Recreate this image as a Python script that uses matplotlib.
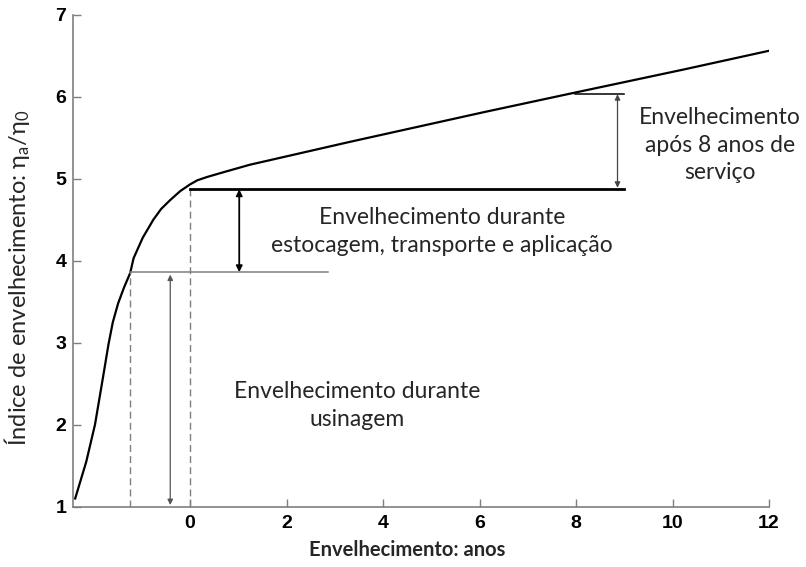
import matplotlib
matplotlib.use('Agg')
import matplotlib.pyplot as plt

# curva de envelhecimento
anos = [-2.38, -2.15, -1.97, -1.80, -1.69, -1.60, -1.49, -1.37, -1.24, -1.17, -0.98,
        -0.76, -0.60, -0.41, -0.20, 0.0, 0.15, 0.35, 0.70, 1.24, 3.32, 4.70, 6.08,
        7.98, 10.22, 12.0]
indice = [1.10, 1.55, 2.00, 2.59, 2.98, 3.25, 3.48, 3.67, 3.85, 4.03, 4.28,
          4.50, 4.63, 4.74, 4.85, 4.93, 4.98, 5.02, 5.08, 5.17, 5.45, 5.63, 5.81,
          6.05, 6.33, 6.56]

x_ticks = [0, 2, 4, 6, 8, 10, 12]
y_ticks = [1, 2, 3, 4, 5, 6, 7]

# niveis marcados
x_usinagem = -1.24
nivel_usinagem = 3.86
nivel_estocagem = 4.88
nivel_servico = 6.03
x_servico = 7.98

fig = plt.figure(figsize=(8.06, 5.67), dpi=100)
ax = fig.add_axes([0.0909, 0.1064, 0.8632, 0.8677])

ax.plot(anos, indice, color='black', lw=1.6)

cinza = '#7f7f7f'
# linhas tracejadas
ax.plot([x_usinagem, x_usinagem], [1, nivel_usinagem], color=cinza, lw=1, ls=(0, (5, 3)))
ax.plot([0, 0], [1, nivel_estocagem], color=cinza, lw=1, ls=(0, (5, 3)))

# linhas horizontais
ax.plot([x_usinagem, 2.87], [nivel_usinagem, nivel_usinagem], color=cinza, lw=1.1)
ax.plot([0, 9.0], [nivel_estocagem, nivel_estocagem], color='black', lw=2)
ax.plot([x_servico, 9.0], [nivel_servico, nivel_servico], color='black', lw=1.1)

# setas
ax.annotate('', xy=(-0.41, 1.02), xytext=(-0.41, nivel_usinagem - 0.03),
            arrowprops=dict(arrowstyle='<|-|>', color='#555555', lw=0.9,
                            mutation_scale=8, shrinkA=0, shrinkB=0))
ax.annotate('', xy=(1.02, nivel_usinagem), xytext=(1.02, nivel_estocagem - 0.01),
            arrowprops=dict(arrowstyle='<|-|>', color='black', lw=1.3,
                            mutation_scale=9, shrinkA=0, shrinkB=0))
ax.annotate('', xy=(8.86, nivel_estocagem + 0.01), xytext=(8.86, nivel_servico),
            arrowprops=dict(arrowstyle='<|-|>', color='#444444', lw=0.9,
                            mutation_scale=8, shrinkA=0, shrinkB=0))

cor_texto = '#262626'
fonte = 'Lato'
ax.text(5.22, 4.36, 'Envelhecimento durante\nestocagem, transporte e aplicação',
        ha='center', va='center', fontsize=16.5, family=fonte, color=cor_texto,
        linespacing=1.4)
ax.text(10.98, 5.41, 'Envelhecimento\napós 8 anos de\nserviço',
        ha='center', va='center', fontsize=16.5, family=fonte, color=cor_texto,
        linespacing=1.4)
ax.text(3.46, 2.23, 'Envelhecimento durante\nusinagem',
        ha='center', va='center', fontsize=16.5, family=fonte, color=cor_texto,
        linespacing=1.4)

ax.set_xlim(-2.42, 12)
ax.set_ylim(1, 7)
ax.tick_params(direction='in', length=6, width=1, color=cinza)
ax.tick_params(axis='x', pad=6)
ax.tick_params(axis='y', pad=5)
ax.set_xticks(x_ticks)
ax.set_yticks(y_ticks)
ax.set_xticklabels([str(t) for t in x_ticks], fontsize=14, fontweight='bold',
                   family='Liberation Sans')
ax.set_yticklabels([str(t) for t in y_ticks], fontsize=14, fontweight='bold',
                   family='Liberation Sans')

for lado in ['top', 'right']:
    ax.spines[lado].set_visible(False)
for lado in ['left', 'bottom']:
    ax.spines[lado].set_color(cinza)
    ax.spines[lado].set_linewidth(1.2)

ax.set_xlabel('Envelhecimento: anos', fontsize=14.5, family=fonte, fontweight='bold',
              color=cor_texto)
ax.xaxis.set_label_coords(0.48, -0.068)
ax.set_ylabel(r'Índice de envelhecimento: $\mathregular{\eta_a/\eta_0}$', fontsize=17,
              family=fonte, color=cor_texto)
ax.yaxis.set_label_coords(-0.059, 0.465)

fig.savefig('out.png', dpi=100)
